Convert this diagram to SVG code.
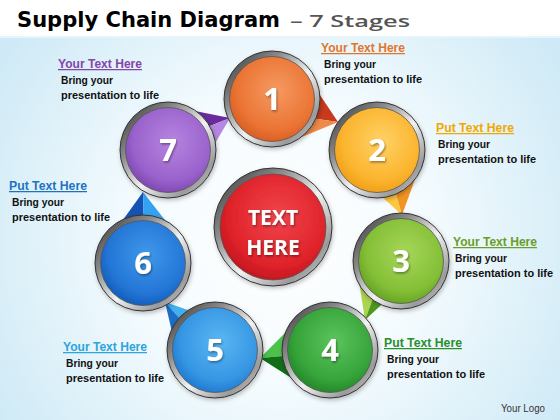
<svg xmlns="http://www.w3.org/2000/svg" width="560" height="420" viewBox="0 0 560 420">
<defs>
<radialGradient id="bg" cx="280" cy="240" r="330" gradientUnits="userSpaceOnUse">
<stop offset="0" stop-color="#ffffff"/><stop offset="0.45" stop-color="#f4fbfe"/><stop offset="1" stop-color="#cfeaf6"/>
</radialGradient>
<linearGradient id="ring" x1="0" y1="0" x2="1" y2="1">
<stop offset="0" stop-color="#2e2e2e"/><stop offset="0.3" stop-color="#8a8a8a"/><stop offset="0.55" stop-color="#f2f2f2"/><stop offset="0.8" stop-color="#9a9a9a"/><stop offset="1" stop-color="#e0e0e0"/>
</linearGradient>
<radialGradient id="g1" cx="0.55" cy="0.4" r="0.65"><stop offset="0" stop-color="#f59a62"/><stop offset="0.7" stop-color="#eb7434"/><stop offset="1" stop-color="#d45a1e"/></radialGradient>
<radialGradient id="g2" cx="0.55" cy="0.4" r="0.65"><stop offset="0" stop-color="#ffd266"/><stop offset="0.7" stop-color="#fbb42e"/><stop offset="1" stop-color="#ee9a12"/></radialGradient>
<radialGradient id="g3" cx="0.55" cy="0.4" r="0.65"><stop offset="0" stop-color="#a6d65a"/><stop offset="0.7" stop-color="#84bf36"/><stop offset="1" stop-color="#5f9e1e"/></radialGradient>
<radialGradient id="g4" cx="0.55" cy="0.4" r="0.65"><stop offset="0" stop-color="#5cc45c"/><stop offset="0.7" stop-color="#36a43a"/><stop offset="1" stop-color="#1f8224"/></radialGradient>
<radialGradient id="g5" cx="0.55" cy="0.4" r="0.65"><stop offset="0" stop-color="#5ab6f2"/><stop offset="0.7" stop-color="#3696e4"/><stop offset="1" stop-color="#1c74cc"/></radialGradient>
<radialGradient id="g6" cx="0.55" cy="0.4" r="0.65"><stop offset="0" stop-color="#3f98ea"/><stop offset="0.7" stop-color="#2476d6"/><stop offset="1" stop-color="#0f58b4"/></radialGradient>
<radialGradient id="g7" cx="0.55" cy="0.4" r="0.65"><stop offset="0" stop-color="#b684e0"/><stop offset="0.7" stop-color="#9a62cc"/><stop offset="1" stop-color="#7a42ac"/></radialGradient>
<radialGradient id="gc" cx="0.55" cy="0.4" r="0.65"><stop offset="0" stop-color="#f0454a"/><stop offset="0.7" stop-color="#e0232b"/><stop offset="1" stop-color="#bc141c"/></radialGradient>
<filter id="sh" x="-20%" y="-20%" width="140%" height="140%"><feDropShadow dx="1" dy="1.5" stdDeviation="1" flood-color="#000" flood-opacity="0.4"/></filter>
<filter id="bs" x="-20%" y="-20%" width="140%" height="140%"><feDropShadow dx="1" dy="2" stdDeviation="2" flood-color="#000" flood-opacity="0.25"/></filter>
</defs>
<style>
.ring{fill:url(#ring);stroke:#333;stroke-width:1}
.num{font-family:"Open Sans","Liberation Sans",sans-serif;font-weight:700;font-size:31px;fill:#fff;text-anchor:middle}
.ctr{font-family:"Open Sans","Liberation Sans",sans-serif;font-weight:700;font-size:21px;fill:#fff;text-anchor:middle}
.hd{font-family:"Liberation Sans",Arial,sans-serif;font-weight:700;font-size:12.5px;text-decoration:underline}
.bd{font-family:"Liberation Sans",Arial,sans-serif;font-weight:700;font-size:11px;fill:#111}
</style>
<rect width="560" height="420" fill="url(#bg)"/>
<rect width="560" height="36" fill="#ffffff"/>
<rect y="36" width="560" height="2" fill="#e6f5fb"/>
<g id="title">
<text x="17" y="27" font-family="'DejaVu Sans',sans-serif" font-weight="700" font-size="22" fill="#000" textLength="263" lengthAdjust="spacingAndGlyphs">Supply Chain Diagram</text>
<text x="290" y="27" font-family="'Open Sans',sans-serif" font-weight="600" font-size="17" fill="#555" textLength="120" lengthAdjust="spacingAndGlyphs">– 7 Stages</text>
</g>
<g id="connectors">
<polygon points="338,122 310,80 290,115" fill="#c83a1c"/>
<polygon points="338,122 290,115 285,144" fill="#f08a48"/>
<polygon points="402,215 370,186 392,180" fill="#ffc83c"/>
<polygon points="402,215 392,180 418,171" fill="#f29424"/>
<polygon points="365,320 358,275 378,285" fill="#acd44e"/>
<polygon points="365,320 378,285 392,295" fill="#4e9820"/>
<polygon points="260,358 292,326 295,355" fill="#4cc24c"/>
<polygon points="260,358 295,355 296,381" fill="#116e16"/>
<polygon points="165,302 205,316 190,330" fill="#3fb0f0"/>
<polygon points="165,302 190,330 175,345" fill="#1a6ec6"/>
<polygon points="143,192 120,224 144,228" fill="#1452b4"/>
<polygon points="143,192 144,228 168,224" fill="#34a2f0"/>
<polygon points="230,118 190,110 200,130" fill="#6a2c9a"/>
<polygon points="230,118 200,130 210,152" fill="#b488e2"/>
</g>
<g id="node1" filter="url(#bs)"><circle cx="272" cy="99" r="48" class="ring"/><circle cx="272" cy="99" r="42.5" fill="url(#g1)" stroke="#555" stroke-width="0.8"/><text x="272" y="110" class="num" filter="url(#sh)">1</text></g>
<g id="node2" filter="url(#bs)"><circle cx="377" cy="150" r="48" class="ring"/><circle cx="377" cy="150" r="42.5" fill="url(#g2)" stroke="#555" stroke-width="0.8"/><text x="377" y="161" class="num" filter="url(#sh)">2</text></g>
<g id="node3" filter="url(#bs)"><circle cx="401" cy="261" r="48" class="ring"/><circle cx="401" cy="261" r="42.5" fill="url(#g3)" stroke="#555" stroke-width="0.8"/><text x="401" y="272" class="num" filter="url(#sh)">3</text></g>
<g id="node4" filter="url(#bs)"><circle cx="330" cy="350" r="48" class="ring"/><circle cx="330" cy="350" r="42.5" fill="url(#g4)" stroke="#555" stroke-width="0.8"/><text x="330" y="361" class="num" filter="url(#sh)">4</text></g>
<g id="node5" filter="url(#bs)"><circle cx="215" cy="350" r="48" class="ring"/><circle cx="215" cy="350" r="42.5" fill="url(#g5)" stroke="#555" stroke-width="0.8"/><text x="215" y="361" class="num" filter="url(#sh)">5</text></g>
<g id="node6" filter="url(#bs)"><circle cx="143" cy="263" r="48" class="ring"/><circle cx="143" cy="263" r="42.5" fill="url(#g6)" stroke="#555" stroke-width="0.8"/><text x="143" y="274" class="num" filter="url(#sh)">6</text></g>
<g id="node7" filter="url(#bs)"><circle cx="168" cy="150" r="48" class="ring"/><circle cx="168" cy="150" r="42.5" fill="url(#g7)" stroke="#555" stroke-width="0.8"/><text x="168" y="161" class="num" filter="url(#sh)">7</text></g>
<g id="center" filter="url(#bs)"><circle cx="273" cy="227" r="59" class="ring"/><circle cx="273" cy="227" r="53" fill="url(#gc)" stroke="#555" stroke-width="0.8"/><text x="273" y="225" class="ctr" filter="url(#sh)">TEXT</text><text x="273" y="255" class="ctr" filter="url(#sh)">HERE</text></g>
<g id="label1"><text x="321" y="52" class="hd" fill="#e0762c" textLength="84" lengthAdjust="spacingAndGlyphs">Your Text Here</text><text x="324" y="68" class="bd" textLength="52" lengthAdjust="spacingAndGlyphs">Bring your</text><text x="324" y="83" class="bd" textLength="98" lengthAdjust="spacingAndGlyphs">presentation  to life</text></g>
<g id="label2"><text x="436" y="132" class="hd" fill="#f0a800" textLength="78" lengthAdjust="spacingAndGlyphs">Put Text Here</text><text x="438" y="148" class="bd" textLength="52" lengthAdjust="spacingAndGlyphs">Bring your</text><text x="438" y="163" class="bd" textLength="98" lengthAdjust="spacingAndGlyphs">presentation  to life</text></g>
<g id="label3"><text x="453" y="246" class="hd" fill="#6a9e28" textLength="84" lengthAdjust="spacingAndGlyphs">Your Text Here</text><text x="455" y="262" class="bd" textLength="52" lengthAdjust="spacingAndGlyphs">Bring your</text><text x="455" y="277" class="bd" textLength="98" lengthAdjust="spacingAndGlyphs">presentation  to life</text></g>
<g id="label4"><text x="384" y="347" class="hd" fill="#2a8e2e" textLength="78" lengthAdjust="spacingAndGlyphs">Put Text Here</text><text x="387" y="363" class="bd" textLength="52" lengthAdjust="spacingAndGlyphs">Bring your</text><text x="387" y="378" class="bd" textLength="98" lengthAdjust="spacingAndGlyphs">presentation  to life</text></g>
<g id="label5"><text x="63" y="351" class="hd" fill="#2ea4dc" textLength="84" lengthAdjust="spacingAndGlyphs">Your Text Here</text><text x="66" y="367" class="bd" textLength="52" lengthAdjust="spacingAndGlyphs">Bring your</text><text x="66" y="382" class="bd" textLength="98" lengthAdjust="spacingAndGlyphs">presentation  to life</text></g>
<g id="label6"><text x="9" y="190" class="hd" fill="#1e72c2" textLength="78" lengthAdjust="spacingAndGlyphs">Put Text Here</text><text x="12" y="206" class="bd" textLength="52" lengthAdjust="spacingAndGlyphs">Bring your</text><text x="12" y="221" class="bd" textLength="98" lengthAdjust="spacingAndGlyphs">presentation  to life</text></g>
<g id="label7"><text x="58" y="68" class="hd" fill="#8446a8" textLength="84" lengthAdjust="spacingAndGlyphs">Your Text Here</text><text x="61" y="84" class="bd" textLength="52" lengthAdjust="spacingAndGlyphs">Bring your</text><text x="61" y="99" class="bd" textLength="98" lengthAdjust="spacingAndGlyphs">presentation  to life</text></g>
<text x="501" y="412" font-family="'Liberation Sans',Arial,sans-serif" font-size="10" fill="#333" textLength="44" lengthAdjust="spacingAndGlyphs">Your Logo</text>
</svg>
